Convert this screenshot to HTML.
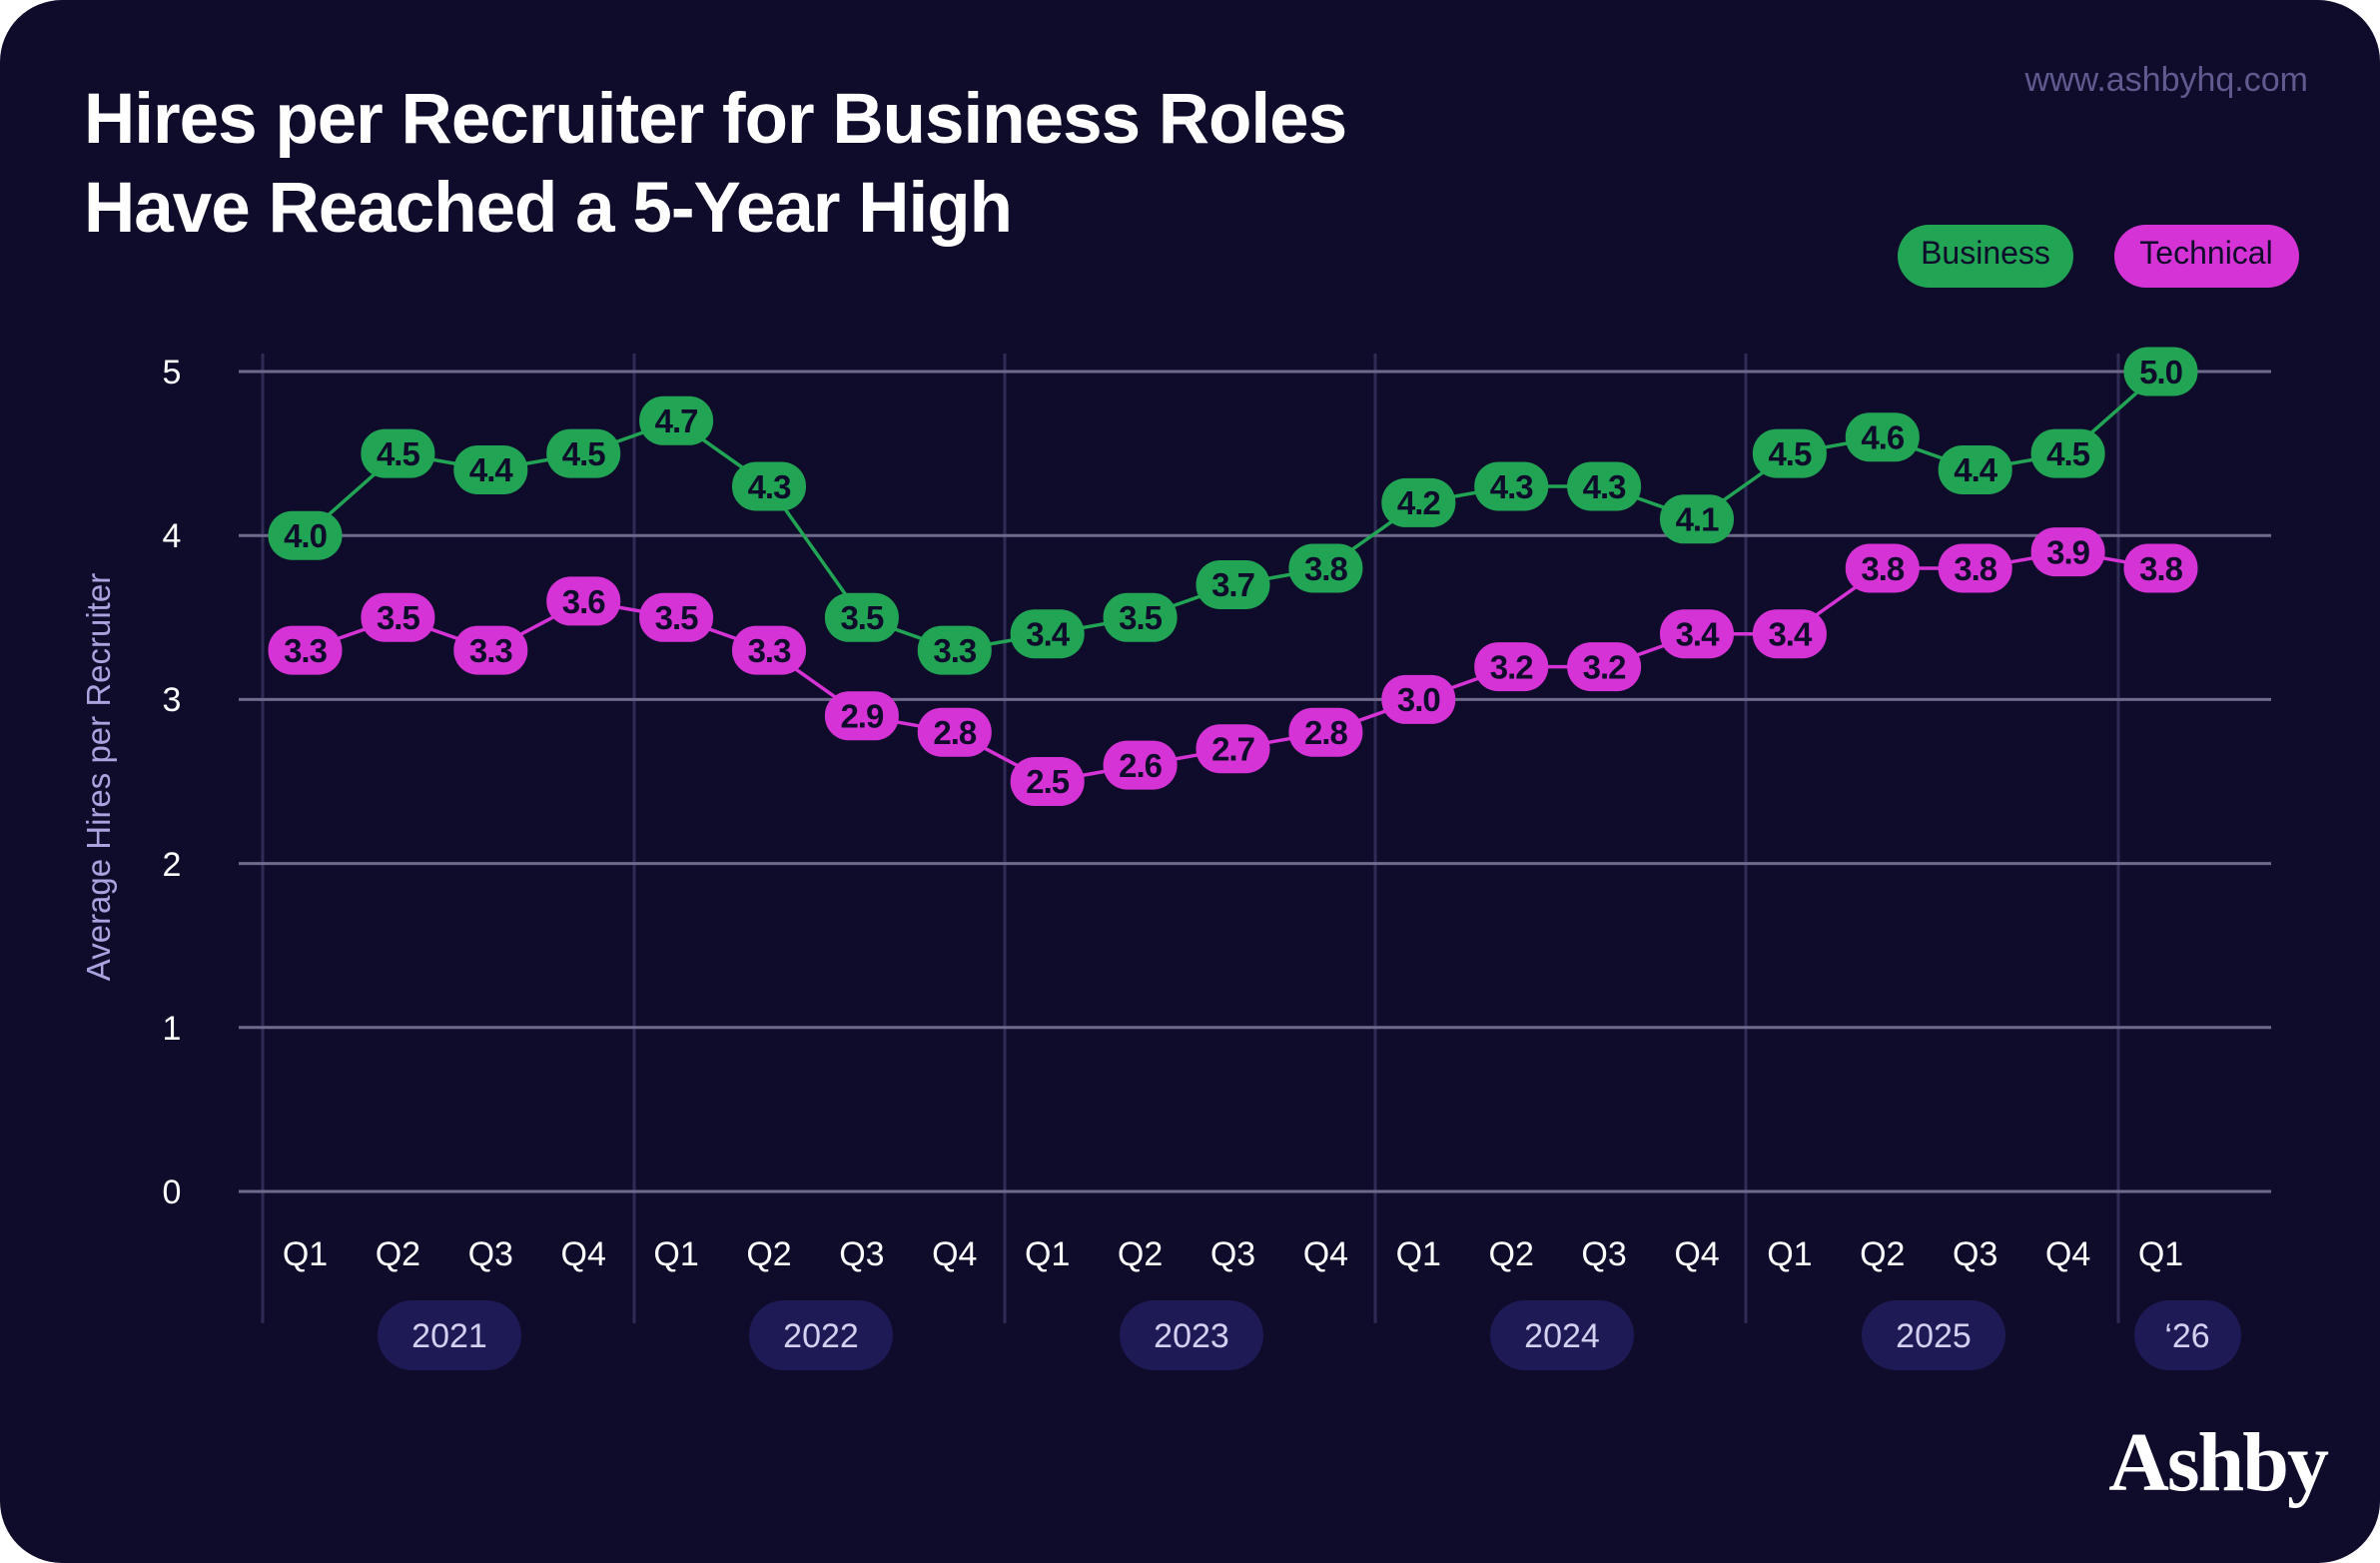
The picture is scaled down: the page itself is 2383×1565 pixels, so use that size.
<!DOCTYPE html>
<html><head><meta charset="utf-8"><style>
html,body{margin:0;padding:0;background:#fff;}
svg{display:block;}
text{font-family:"Liberation Sans",sans-serif;}
.p text{font-size:33px;font-weight:bold;fill:#0e0c2a;text-anchor:middle;letter-spacing:-1px;}
.q{font-size:34px;fill:#fff;text-anchor:middle;}
.yt{font-size:34px;fill:#fff;text-anchor:middle;}
</style></head><body>
<svg width="2383" height="1565" viewBox="0 0 2383 1565" xmlns="http://www.w3.org/2000/svg">
<rect x="0" y="0" width="2383" height="1565" rx="62" fill="#0e0c2a"/>
<text x="84" y="143" font-size="71" font-weight="bold" fill="#fff" letter-spacing="-1">Hires per Recruiter for Business Roles</text>
<text x="84" y="232" font-size="71" font-weight="bold" fill="#fff" letter-spacing="-1">Have Reached a 5-Year High</text>
<text x="2311" y="91" font-size="34" fill="#5f5a8f" text-anchor="end">www.ashbyhq.com</text>
<rect x="1900" y="225" width="176" height="63" rx="31.5" fill="#22a455"/>
<text x="1988" y="264" font-size="32" fill="#0e0c2a" text-anchor="middle">Business</text>
<rect x="2117" y="225" width="185" height="63" rx="31.5" fill="#d633d6"/>
<text x="2209" y="264" font-size="32" fill="#0e0c2a" text-anchor="middle">Technical</text>
<g stroke="#2e2b55" stroke-width="3">
<line x1="263" y1="354" x2="263" y2="1325"/><line x1="635" y1="354" x2="635" y2="1325"/><line x1="1006" y1="354" x2="1006" y2="1325"/><line x1="1377" y1="354" x2="1377" y2="1325"/><line x1="1748" y1="354" x2="1748" y2="1325"/><line x1="2121" y1="354" x2="2121" y2="1325"/>
</g>
<g stroke="#6e6a8c" stroke-width="3">
<line x1="239" y1="372" x2="2274" y2="372"/><line x1="239" y1="536.2" x2="2274" y2="536.2"/><line x1="239" y1="700.4" x2="2274" y2="700.4"/><line x1="239" y1="864.6" x2="2274" y2="864.6"/><line x1="239" y1="1028.8" x2="2274" y2="1028.8"/><line x1="239" y1="1193" x2="2274" y2="1193"/>
</g>
<text class="yt" x="172" y="384">5</text><text class="yt" x="172" y="548">4</text><text class="yt" x="172" y="712">3</text><text class="yt" x="172" y="877">2</text><text class="yt" x="172" y="1041">1</text><text class="yt" x="172" y="1205">0</text>
<text x="110" y="778" font-size="33" fill="#a9a3e0" text-anchor="middle" transform="rotate(-90 110 778)">Average Hires per Recruiter</text>
<g class="q">
<text x="305.5" y="1267">Q1</text><text x="398.4" y="1267">Q2</text><text x="491.3" y="1267">Q3</text><text x="584.2" y="1267">Q4</text>
<text x="677.1" y="1267">Q1</text><text x="770" y="1267">Q2</text><text x="862.9" y="1267">Q3</text><text x="955.8" y="1267">Q4</text>
<text x="1048.7" y="1267">Q1</text><text x="1141.6" y="1267">Q2</text><text x="1234.5" y="1267">Q3</text><text x="1327.4" y="1267">Q4</text>
<text x="1420.3" y="1267">Q1</text><text x="1513.2" y="1267">Q2</text><text x="1606.1" y="1267">Q3</text><text x="1699" y="1267">Q4</text>
<text x="1791.9" y="1267">Q1</text><text x="1884.8" y="1267">Q2</text><text x="1977.7" y="1267">Q3</text><text x="2070.6" y="1267">Q4</text>
<text x="2163.5" y="1267">Q1</text>
</g>
<g fill="#1e1a55">
<rect x="378" y="1302" width="144" height="70" rx="35"/><rect x="750" y="1302" width="144" height="70" rx="35"/><rect x="1121" y="1302" width="144" height="70" rx="35"/><rect x="1492" y="1302" width="144" height="70" rx="35"/><rect x="1864" y="1302" width="144" height="70" rx="35"/><rect x="2137" y="1302" width="107" height="70" rx="35"/>
</g>
<g font-size="34" fill="#d4d0f0" text-anchor="middle">
<text x="450" y="1349">2021</text><text x="822" y="1349">2022</text><text x="1193" y="1349">2023</text><text x="1564" y="1349">2024</text><text x="1936" y="1349">2025</text><text x="2190" y="1349">‘26</text>
</g>
<text x="2330" y="1492" style="font-family:'Liberation Serif',serif" font-size="84" font-weight="bold" fill="#fff" text-anchor="end" letter-spacing="-2">Ashby</text>
<polyline fill="none" stroke="#22a455" stroke-width="3.5" points="305.5,536.2 398.4,454.1 491.3,470.5 584.2,454.1 677.1,421.3 770,487 862.9,618.3 955.8,651.1 1048.7,634.7 1141.6,618.3 1234.5,585.5 1327.4,569 1420.3,503.4 1513.2,487 1606.1,487 1699,519.8 1791.9,454.1 1884.8,437.7 1977.7,470.5 2070.6,454.1 2163.5,372"/>
<polyline fill="none" stroke="#d633d6" stroke-width="3.5" points="305.5,651.1 398.4,618.3 491.3,651.1 584.2,601.9 677.1,618.3 770,651.1 862.9,716.8 955.8,733.2 1048.7,782.5 1141.6,766.1 1234.5,749.7 1327.4,733.2 1420.3,700.4 1513.2,667.6 1606.1,667.6 1699,634.7 1791.9,634.7 1884.8,569 1977.7,569 2070.6,552.6 2163.5,569"/>
<g class="p">
<g fill="#22a455">
<rect x="268.5" y="511.7" width="74" height="49" rx="24"/><rect x="361.4" y="429.6" width="74" height="49" rx="24"/><rect x="454.3" y="446" width="74" height="49" rx="24"/><rect x="547.2" y="429.6" width="74" height="49" rx="24"/><rect x="640.1" y="396.8" width="74" height="49" rx="24"/><rect x="733" y="462.5" width="74" height="49" rx="24"/><rect x="825.9" y="593.8" width="74" height="49" rx="24"/><rect x="918.8" y="626.6" width="74" height="49" rx="24"/><rect x="1011.7" y="610.2" width="74" height="49" rx="24"/><rect x="1104.6" y="593.8" width="74" height="49" rx="24"/><rect x="1197.5" y="561" width="74" height="49" rx="24"/><rect x="1290.4" y="544.5" width="74" height="49" rx="24"/><rect x="1383.3" y="478.9" width="74" height="49" rx="24"/><rect x="1476.2" y="462.5" width="74" height="49" rx="24"/><rect x="1569.1" y="462.5" width="74" height="49" rx="24"/><rect x="1662" y="495.3" width="74" height="49" rx="24"/><rect x="1754.9" y="429.6" width="74" height="49" rx="24"/><rect x="1847.8" y="413.2" width="74" height="49" rx="24"/><rect x="1940.7" y="446" width="74" height="49" rx="24"/><rect x="2033.6" y="429.6" width="74" height="49" rx="24"/><rect x="2126.5" y="347.5" width="74" height="49" rx="24"/>
</g>
<g fill="#d633d6">
<rect x="268.5" y="626.6" width="74" height="49" rx="24"/><rect x="361.4" y="593.8" width="74" height="49" rx="24"/><rect x="454.3" y="626.6" width="74" height="49" rx="24"/><rect x="547.2" y="577.4" width="74" height="49" rx="24"/><rect x="640.1" y="593.8" width="74" height="49" rx="24"/><rect x="733" y="626.6" width="74" height="49" rx="24"/><rect x="825.9" y="692.3" width="74" height="49" rx="24"/><rect x="918.8" y="708.7" width="74" height="49" rx="24"/><rect x="1011.7" y="758" width="74" height="49" rx="24"/><rect x="1104.6" y="741.6" width="74" height="49" rx="24"/><rect x="1197.5" y="725.2" width="74" height="49" rx="24"/><rect x="1290.4" y="708.7" width="74" height="49" rx="24"/><rect x="1383.3" y="675.9" width="74" height="49" rx="24"/><rect x="1476.2" y="643.1" width="74" height="49" rx="24"/><rect x="1569.1" y="643.1" width="74" height="49" rx="24"/><rect x="1662" y="610.2" width="74" height="49" rx="24"/><rect x="1754.9" y="610.2" width="74" height="49" rx="24"/><rect x="1847.8" y="544.5" width="74" height="49" rx="24"/><rect x="1940.7" y="544.5" width="74" height="49" rx="24"/><rect x="2033.6" y="528.1" width="74" height="49" rx="24"/><rect x="2126.5" y="544.5" width="74" height="49" rx="24"/>
</g>
<text x="305.5" y="548">4.0</text><text x="398.4" y="466">4.5</text><text x="491.3" y="482">4.4</text><text x="584.2" y="466">4.5</text><text x="677.1" y="433">4.7</text><text x="770" y="499">4.3</text><text x="862.9" y="630">3.5</text><text x="955.8" y="663">3.3</text><text x="1048.7" y="646.5">3.4</text><text x="1141.6" y="630">3.5</text><text x="1234.5" y="597">3.7</text><text x="1327.4" y="581">3.8</text><text x="1420.3" y="515">4.2</text><text x="1513.2" y="499">4.3</text><text x="1606.1" y="499">4.3</text><text x="1699" y="531.5">4.1</text><text x="1791.9" y="466">4.5</text><text x="1884.8" y="449.5">4.6</text><text x="1977.7" y="482">4.4</text><text x="2070.6" y="466">4.5</text><text x="2163.5" y="384">5.0</text>
<text x="305.5" y="663">3.3</text><text x="398.4" y="630">3.5</text><text x="491.3" y="663">3.3</text><text x="584.2" y="614">3.6</text><text x="677.1" y="630">3.5</text><text x="770" y="663">3.3</text><text x="862.9" y="728.5">2.9</text><text x="955.8" y="745">2.8</text><text x="1048.7" y="794">2.5</text><text x="1141.6" y="778">2.6</text><text x="1234.5" y="761.5">2.7</text><text x="1327.4" y="745">2.8</text><text x="1420.3" y="712">3.0</text><text x="1513.2" y="679.5">3.2</text><text x="1606.1" y="679.5">3.2</text><text x="1699" y="646.5">3.4</text><text x="1791.9" y="646.5">3.4</text><text x="1884.8" y="581">3.8</text><text x="1977.7" y="581">3.8</text><text x="2070.6" y="564.5">3.9</text><text x="2163.5" y="581">3.8</text>
</g>
</svg>
</body></html>
